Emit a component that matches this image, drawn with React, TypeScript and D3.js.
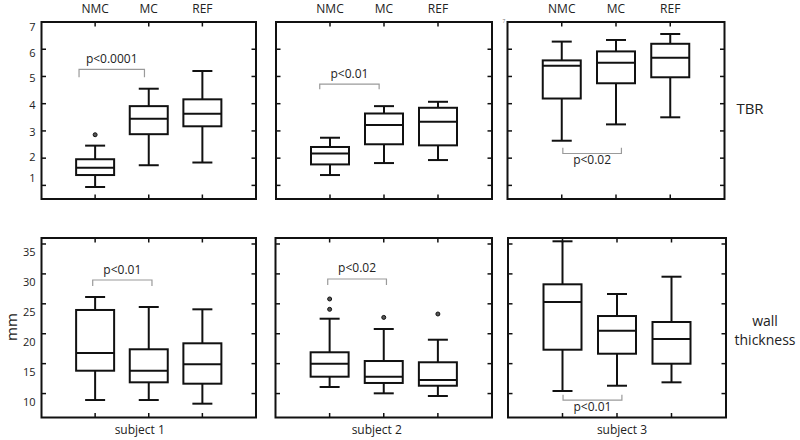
import React from "react";
import * as d3 from "d3";

// ---------- data ----------
const categories = ["NMC", "MC", "REF"];
const subjects = ["subject 1", "subject 2", "subject 3"];
const tbrTicks = [1, 2, 3, 4, 5, 6, 7];
const wallTicks = [10, 15, 20, 25, 30, 35];

// [low whisker, Q1, median, Q3, high whisker] per category, per subject
const tbrSubject1 = [[0.94, 1.38, 1.65, 1.96, 2.46], [1.74, 2.88, 3.45, 3.91, 4.55], [1.84, 3.17, 3.63, 4.16, 5.2]];
const tbrSubject2 = [[1.38, 1.77, 2.17, 2.41, 2.75], [1.82, 2.51, 3.22, 3.64, 3.91], [1.93, 2.47, 3.34, 3.85, 4.07]];
const tbrSubject3 = [[2.64, 4.19, 5.39, 5.59, 6.28], [3.24, 4.75, 5.5, 5.92, 6.34], [3.5, 4.97, 5.69, 6.2, 6.56]];
const wallSubject1 = [[8.92, 13.82, 16.78, 23.97, 26.14], [8.92, 11.88, 13.82, 17.4, 24.47], [8.31, 11.65, 14.89, 18.4, 24.08]];
const wallSubject2 = [[11.1, 12.82, 14.99, 16.9, 22.51], [10.04, 11.77, 12.82, 15.44, 20.79], [9.59, 11.31, 12.27, 15.23, 19.0]];
const wallSubject3 = [[10.43, 17.33, 25.3, 28.26, 35.45], [11.31, 16.66, 20.51, 22.96, 26.64], [11.88, 14.99, 19.12, 21.96, 29.53]];

// outliers: [subject index, category index, value]
const tbrOutliers = [[0, 0, 2.86]];
const wallOutliers = [[1, 0, 25.81], [1, 0, 24.08], [1, 1, 22.73], [1, 2, 23.3]];

// significance brackets, one per panel (3 TBR then 3 wall thickness)
const pLabels = ["p<0.0001", "p<0.01", "p<0.02", "p<0.01", "p<0.02", "p<0.01"];
const bracketFrom = [0.7, 0.81, 1.02, 0.955, 0.965, 1.01];
const bracketTo = [1.92, 1.91, 2.1, 2.06, 2.05, 2.09];
const bracketLevel = [5.26, 4.72, 2.17, 28.98, 29.15, 8.92];
const bracketLeg = [4.97, 4.53, 2.38, 27.98, 28.15, 9.81];

// ---------- layout ----------
const FONT = "'Open Sans', 'Noto Sans', sans-serif";
const INK = "#111";
const TXT = "#222";
const panelX = [
  [41.5, 256],
  [276, 492],
  [507.5, 724.5],
];
const panelXBottom = [
  [41.5, 256],
  [275.5, 492],
  [508, 726],
];
const yTop = d3.scaleLinear().domain([0.5, 7]).range([199, 22]);
const yBot = d3.scaleLinear().domain([6, 36]).range([417.5, 238]);
const BOX_W = 38;
const CAP_W = 20;
const TICK = 4.5;
const topLabelNudge: Record<number, number> = { 1: -8, 2: -2, 3: 1, 4: 1, 5: 1, 6: 3, 7: 4 };
const subjectNudge = [-9, -7, 5];

type Stats = number[][];

function Panel({
  idx,
  xr,
  y,
  stats,
  ticks,
  outliers,
  subjectIdx,
  tickLabels,
  labelDy,
  showCats,
  showSubject,
}: {
  idx: number;
  xr: number[];
  y: d3.ScaleLinear<number, number>;
  stats: Stats;
  ticks: number[];
  outliers: number[][];
  subjectIdx: number;
  tickLabels: boolean;
  labelDy: (v: number) => number;
  showCats: boolean;
  showSubject: boolean;
}) {
  const x = d3.scaleLinear().domain([0, 4]).range(xr);
  const [y0, y1] = y.range();
  const top = Math.min(y0, y1);
  const bottom = Math.max(y0, y1);
  const from = x(bracketFrom[idx]);
  const to = x(bracketTo[idx]);
  const lvl = y(bracketLevel[idx]);
  const leg = y(bracketLeg[idx]);
  const up = leg > lvl;
  const bracketPath = d3.path();
  bracketPath.moveTo(from, leg);
  bracketPath.lineTo(from, lvl);
  bracketPath.lineTo(to, lvl);
  bracketPath.lineTo(to, leg);
  const tickY = ticks.filter((t) => y(t) > top + 2 && y(t) < bottom - 2);
  return (
    <g>
      {categories.map((c, i) => (
        <g key={c}>
          <line x1={x(i + 1)} x2={x(i + 1)} y1={top} y2={top + TICK} stroke={INK} strokeWidth={1.5} />
          <line x1={x(i + 1)} x2={x(i + 1)} y1={bottom} y2={bottom - TICK} stroke={INK} strokeWidth={1.5} />
        </g>
      ))}
      {tickY.map((t) => (
        <g key={t}>
          <line x1={xr[0]} x2={xr[0] + TICK} y1={y(t)} y2={y(t)} stroke={INK} strokeWidth={1.5} />
          <line x1={xr[1]} x2={xr[1] - TICK} y1={y(t)} y2={y(t)} stroke={INK} strokeWidth={1.5} />
        </g>
      ))}
      {tickLabels &&
        ticks.map((t) => (
          <text
            key={"l" + t}
            x={xr[0] - 6}
            y={y(t) + labelDy(t)}
            textAnchor="end"
            dominantBaseline="central"
            fontSize={11}
            fontFamily={FONT}
            fill={TXT}
          >
            {t}
          </text>
        ))}
      <rect x={xr[0]} y={top} width={xr[1] - xr[0]} height={bottom - top} fill="none" stroke={INK} strokeWidth={2} />
      {stats.map((s, i) => {
        const cx = x(i + 1);
        const [lo, q1, med, q3, hi] = s;
        return (
          <g key={i} stroke={INK} strokeWidth={2} fill="none">
            <line x1={cx} x2={cx} y1={y(hi)} y2={y(q3)} />
            <line x1={cx} x2={cx} y1={y(q1)} y2={y(lo)} />
            <line x1={cx - CAP_W / 2} x2={cx + CAP_W / 2} y1={y(hi)} y2={y(hi)} />
            <line x1={cx - CAP_W / 2} x2={cx + CAP_W / 2} y1={y(lo)} y2={y(lo)} />
            <rect x={cx - BOX_W / 2} y={y(q3)} width={BOX_W} height={y(q1) - y(q3)} fill="white" />
            <line x1={cx - BOX_W / 2} x2={cx + BOX_W / 2} y1={y(med)} y2={y(med)} />
          </g>
        );
      })}
      {outliers
        .filter((o) => o[0] === subjectIdx)
        .map((o, k) => (
          <circle key={k} cx={x(o[1] + 1)} cy={y(o[2])} r={2} fill="#555" stroke="#111" strokeWidth={1} />
        ))}
      <path d={bracketPath.toString()} fill="none" stroke="#9a9a9a" strokeWidth={1.2} />
      <text
        x={(from + to) / 2}
        y={up ? lvl - 6.5 : lvl + 10.5}
        textAnchor="middle"
        fontSize={12}
        fontFamily={FONT}
        fill={TXT}
      >
        {pLabels[idx]}
      </text>
      {showCats &&
        categories.map((c, i) => (
          <text key={"c" + c} x={x(i + 1)} y={13} textAnchor="middle" fontSize={12} fontFamily={FONT} fill={TXT}>
            {c}
          </text>
        ))}
      {showSubject && (
        <text
          x={x(2) + subjectNudge[subjectIdx]}
          y={434}
          textAnchor="middle"
          fontSize={12}
          fontFamily={FONT}
          fill={TXT}
        >
          {subjects[subjectIdx]}
        </text>
      )}
    </g>
  );
}

export default function App() {
  const tbrData = [tbrSubject1, tbrSubject2, tbrSubject3];
  const wallData = [wallSubject1, wallSubject2, wallSubject3];
  return (
    <svg
      width={800}
      height={440}
      viewBox="0 0 800 440"
      style={{ position: "absolute", left: 0, top: 0, background: "white" }}
    >
      <rect width={800} height={440} fill="white" />
      {tbrData.map((st, i) => (
        <Panel
          key={"t" + i}
          idx={i}
          xr={panelX[i]}
          y={yTop}
          stats={st}
          ticks={tbrTicks}
          outliers={tbrOutliers}
          subjectIdx={i}
          tickLabels={i === 0}
          labelDy={(v) => topLabelNudge[v] ?? 0}
          showCats={true}
          showSubject={false}
        />
      ))}
      {wallData.map((st, i) => (
        <Panel
          key={"w" + i}
          idx={i + 3}
          xr={panelXBottom[i]}
          y={yBot}
          stats={st}
          ticks={wallTicks}
          outliers={wallOutliers}
          subjectIdx={i}
          tickLabels={i === 0}
          labelDy={() => 8}
          showCats={false}
          showSubject={true}
        />
      ))}
      <text x={504} y={23} textAnchor="middle" fontSize={5} fontFamily={FONT} fill="#777">
        {tbrTicks[tbrTicks.length - 1]}
      </text>
      <text x={750} y={114} textAnchor="middle" fontSize={15} fontFamily={FONT} fill={TXT}>
        TBR
      </text>
      <text x={765} y={326} textAnchor="middle" fontSize={14} fontFamily={FONT} fill={TXT}>
        wall
      </text>
      <text x={765} y={345} textAnchor="middle" fontSize={14} fontFamily={FONT} fill={TXT}>
        thickness
      </text>
      <text
        transform="translate(17,327) rotate(-90)"
        textAnchor="middle"
        fontSize={15}
        fontFamily={FONT}
        fill={TXT}
      >
        mm
      </text>
    </svg>
  );
}
